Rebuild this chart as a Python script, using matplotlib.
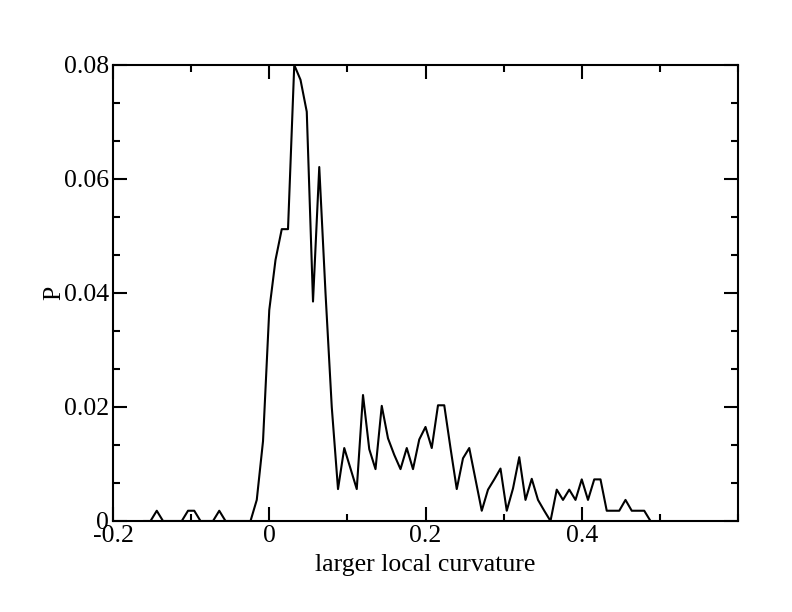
import numpy as np
import matplotlib.pyplot as plt
from matplotlib.ticker import AutoMinorLocator, MultipleLocator

# histogram of larger local curvature, bin width 0.008
x_start = -0.16
bin_width = 0.008
p = [0, 0, 0.0018, 0, 0, 0, 0, 0.0018, 0.0018, 0,
     0, 0, 0.0018, 0, 0, 0, 0, 0, 0.0037, 0.014,
     0.037, 0.0458, 0.0512, 0.0512, 0.08, 0.0774, 0.0718, 0.0385, 0.0621, 0.040,
     0.020, 0.0056, 0.0128, 0.0092, 0.0056, 0.0221, 0.0126, 0.0091, 0.0202, 0.0145,
     0.0116, 0.0091, 0.0128, 0.0091, 0.0143, 0.0165, 0.0128, 0.0203, 0.0203, 0.0128,
     0.0056, 0.011, 0.0128, 0.0073, 0.0018, 0.0055, 0.0073, 0.0092, 0.0018, 0.0057,
     0.0112, 0.0037, 0.0074, 0.0037, 0.0018, 0, 0.0055, 0.0037, 0.0055, 0.0037,
     0.0073, 0.0037, 0.0073, 0.0073, 0.0018, 0.0018, 0.0018, 0.0037, 0.0018, 0.0018,
     0.0018, 0]
x = x_start + bin_width * np.arange(len(p))

xticks = [-0.2, 0, 0.2, 0.4]
xticklabels = ["-0.2", "0", "0.2", "0.4"]
yticks = [0, 0.02, 0.04, 0.06, 0.08]
yticklabels = ["0", "0.02", "0.04", "0.06", "0.08"]

plt.rcParams['font.family'] = ['Liberation Serif', 'DejaVu Serif']

fig = plt.figure(figsize=(7.92, 6.12), dpi=100)
ax = fig.add_axes([0.1427, 0.1487, 0.7891, 0.7451])

ax.plot(x, p, color='black', lw=1.5)

ax.set_xlim(-0.2, 0.6)
ax.set_ylim(0, 0.08)
ax.set_xticks(xticks)
ax.set_xticklabels(xticklabels)
ax.set_yticks(yticks)
ax.set_yticklabels(yticklabels)
ax.xaxis.set_minor_locator(MultipleLocator(0.1))
ax.yaxis.set_minor_locator(AutoMinorLocator(3))

ax.tick_params(which='both', direction='in', top=True, right=True,
               labelsize=18.5, width=1.5)
ax.tick_params(which='major', length=10, pad=3)
ax.tick_params(which='minor', length=5)
for s in ax.spines.values():
    s.set_linewidth(1.5)

ax.set_xlabel("larger local curvature", fontsize=18.5, labelpad=5)
ax.set_ylabel("P", fontsize=18.5, labelpad=-1)

fig.savefig("out.png", dpi=100)
